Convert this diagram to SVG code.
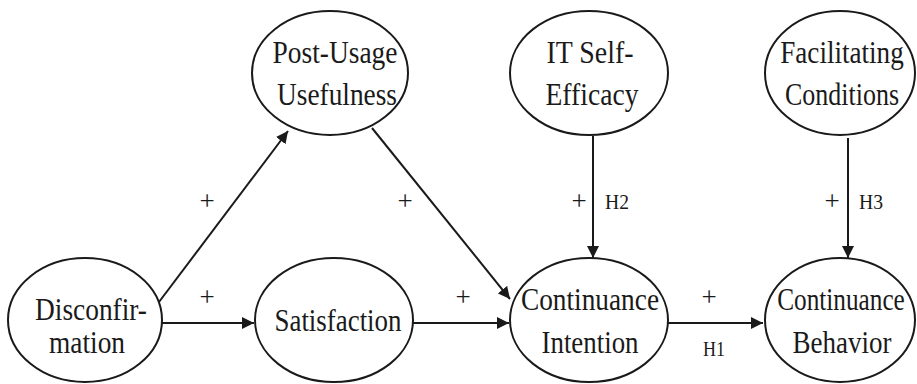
<svg xmlns="http://www.w3.org/2000/svg" width="917" height="384" viewBox="0 0 917 384" font-family="'Liberation Serif', 'DejaVu Serif', 'Times New Roman', serif">
  <style>
    .node ellipse { fill: #ffffff; stroke: #1a1a1a; stroke-width: 2; }
    .node text { font-size: 31px; fill: #1a1a1a; text-anchor: middle; }
    .edge { stroke: #1a1a1a; stroke-width: 2; fill: none; marker-end: url(#arrow); }
    .lbl { font-size: 22px; fill: #1a1a1a; text-anchor: middle; }
    .plus { font-size: 27px; }
  </style>
  <defs>
    <marker id="arrow" viewBox="0 0 10 10" refX="10" refY="5" markerWidth="6" markerHeight="6" orient="auto" markerUnits="strokeWidth">
      <path d="M0,0 L10,5 L0,10 z" fill="#1a1a1a"/>
    </marker>
  </defs>
  <rect width="917" height="384" fill="#ffffff"/>

  <!-- arrows between constructs -->
  <g id="connectors">
    <line class="edge" x1="159" y1="302" x2="288" y2="131"/>
    <line class="edge" x1="162" y1="323" x2="254" y2="323"/>
    <line class="edge" x1="372" y1="128" x2="510" y2="299"/>
    <line class="edge" x1="413" y1="323" x2="509" y2="323"/>
    <line class="edge" x1="593" y1="136" x2="593" y2="258"/>
    <line class="edge" x1="668" y1="323" x2="763" y2="323"/>
    <line class="edge" x1="848" y1="138" x2="848" y2="258"/>
  </g>

  <!-- path signs and hypothesis labels -->
  <g id="edge-labels">
    <text class="lbl plus" x="207" y="210">+</text>
    <text class="lbl plus" x="207" y="306">+</text>
    <text class="lbl plus" x="405" y="210">+</text>
    <text class="lbl plus" x="463" y="306">+</text>
    <text class="lbl plus" x="579" y="210">+</text>
    <text class="lbl" x="617" y="209" textLength="24" lengthAdjust="spacingAndGlyphs">H2</text>
    <text class="lbl plus" x="709" y="306">+</text>
    <text class="lbl" x="714" y="356" textLength="22" lengthAdjust="spacingAndGlyphs">H1</text>
    <text class="lbl plus" x="832" y="210">+</text>
    <text class="lbl" x="871" y="209" textLength="24" lengthAdjust="spacingAndGlyphs">H3</text>
  </g>

  <g id="post-usage-usefulness" class="node">
    <ellipse cx="330" cy="73" rx="78" ry="62"/>
    <text x="335" y="63" textLength="125" lengthAdjust="spacingAndGlyphs">Post-Usage</text>
    <text x="337" y="105" textLength="120" lengthAdjust="spacingAndGlyphs">Usefulness</text>
  </g>

  <g id="it-self-efficacy" class="node">
    <ellipse cx="589" cy="73" rx="79" ry="62"/>
    <text x="590" y="63" textLength="87" lengthAdjust="spacingAndGlyphs">IT Self-</text>
    <text x="592" y="105" textLength="93" lengthAdjust="spacingAndGlyphs">Efficacy</text>
  </g>

  <!-- right-hand column: narrowed with a horizontal scale so the labels sit inside the ellipses -->
  <g id="facilitating-conditions" class="node">
    <ellipse cx="840" cy="73" rx="75" ry="62"/>
    <text transform="translate(842 63) scale(0.875 1)">Facilitating</text>
    <text transform="translate(842 105) scale(0.838 1)">Conditions</text>
  </g>

  <g id="disconfirmation" class="node">
    <ellipse cx="85" cy="320" rx="77" ry="62"/>
    <text x="91" y="320" textLength="112" lengthAdjust="spacingAndGlyphs">Disconfir-</text>
    <text x="87" y="353" textLength="76" lengthAdjust="spacingAndGlyphs">mation</text>
  </g>

  <g id="satisfaction" class="node">
    <ellipse cx="334" cy="320" rx="79" ry="62"/>
    <text x="338" y="331" textLength="127" lengthAdjust="spacingAndGlyphs">Satisfaction</text>
  </g>

  <g id="continuance-intention" class="node">
    <ellipse cx="589" cy="320" rx="79" ry="62"/>
    <text x="590" y="310" textLength="138" lengthAdjust="spacingAndGlyphs">Continuance</text>
    <text x="590" y="353" textLength="97" lengthAdjust="spacingAndGlyphs">Intention</text>
  </g>

  <g id="continuance-behavior" class="node">
    <ellipse cx="840" cy="320" rx="75" ry="62"/>
    <text transform="translate(841 310) scale(0.815 1)">Continuance</text>
    <text transform="translate(842 353) scale(0.87 1)">Behavior</text>
  </g>
</svg>
